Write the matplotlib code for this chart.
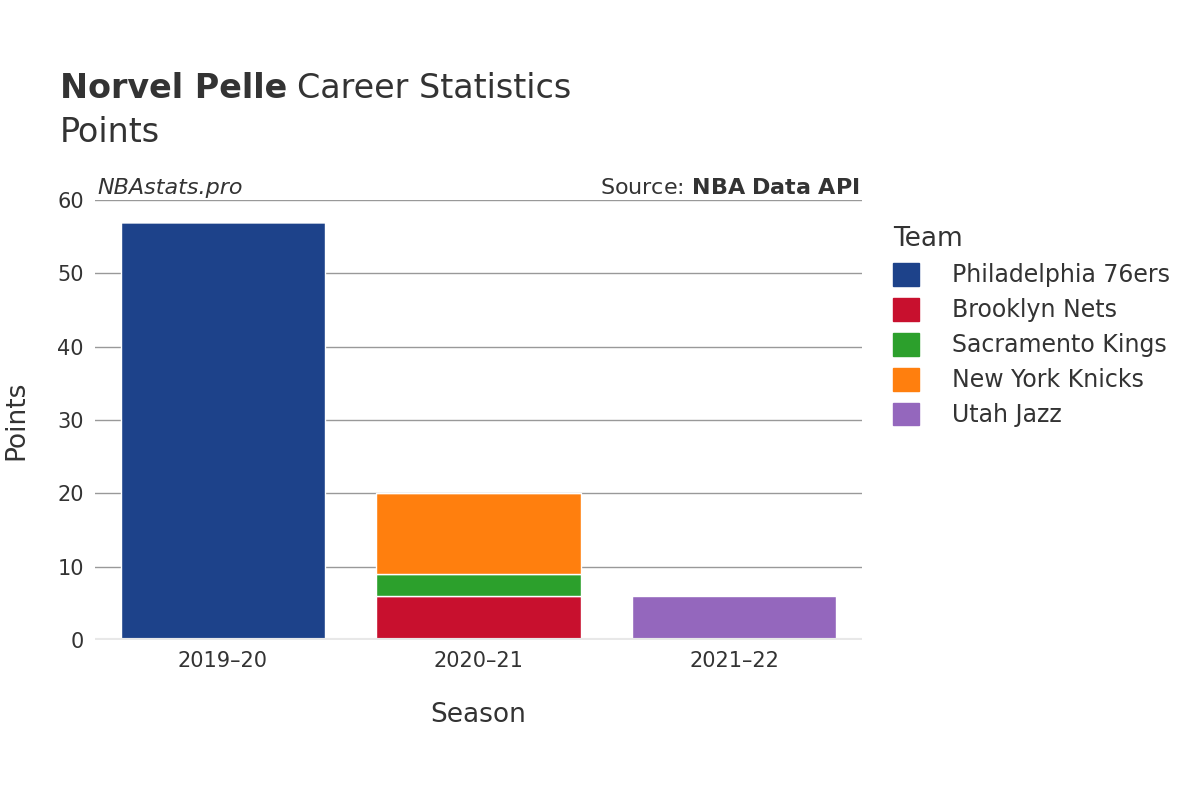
import matplotlib
matplotlib.use("Agg")
import matplotlib.pyplot as plt
from matplotlib.patches import Patch

seasons = ["2019–20", "2020–21", "2021–22"]
teams = ["Philadelphia 76ers", "Brooklyn Nets", "Sacramento Kings", "New York Knicks", "Utah Jazz"]
colors = ["#1d428a", "#c8102e", "#2ca02c", "#ff7f0e", "#9467bd"]
# points per team per season (stack order bottom to top)
points = {
    "Philadelphia 76ers": [57, 0, 0],
    "Brooklyn Nets": [0, 6, 0],
    "Sacramento Kings": [0, 3, 0],
    "New York Knicks": [0, 11, 0],
    "Utah Jazz": [0, 0, 6],
}
yticks = [0, 10, 20, 30, 40, 50, 60]

fig = plt.figure(figsize=(12, 8), dpi=100)
ax = fig.add_axes([95 / 1200, 160 / 800, 767 / 1200, 440 / 800])

bottoms = [0, 0, 0]
for team, c in zip(teams, colors):
    vals = points[team]
    ax.bar(range(len(seasons)), vals, bottom=bottoms, width=0.8, color=c,
           edgecolor="white", linewidth=1, zorder=3)
    bottoms = [b + v for b, v in zip(bottoms, vals)]

ax.set_xlim(-0.5, 2.5)
ax.set_ylim(0, 60)
ax.set_yticks(yticks)
ax.set_xticks(range(len(seasons)))
ax.set_xticklabels(seasons)
ax.grid(axis="y", color="#999999", linewidth=1, zorder=0)
ax.axhline(0, color="#e8e8e8", linewidth=3, zorder=4)
for s in ax.spines.values():
    s.set_visible(False)
ax.tick_params(length=0, labelsize=15, colors="#333333", pad=8)
ax.set_xlabel("Season", fontsize=19, color="#333333", labelpad=22)
ax.set_ylabel("Points", fontsize=19, color="#333333", labelpad=20)

ax.text(0.003, 1.005, "NBAstats.pro", transform=ax.transAxes, fontsize=16,
        style="italic", color="#333333", va="bottom")
ax.text(0.997, 1.005, "Source: $\\bf{NBA\\ Data\\ API}$", transform=ax.transAxes,
        fontsize=16, color="#333333", ha="right", va="bottom")

t1 = fig.text(60 / 1200, 1 - 88 / 800, "Norvel Pelle", fontsize=24, weight="bold",
              color="#333333", va="center")
fig.canvas.draw()
bb = t1.get_window_extent()
fig.text(bb.x1 / 1200 + 0.008, 1 - 88 / 800, "Career Statistics", fontsize=24,
         color="#333333", va="center")
fig.text(60 / 1200, 1 - 132 / 800, "Points", fontsize=24, color="#333333", va="center")

handles = [Patch(facecolor=c, edgecolor=c, label=t) for t, c in zip(teams, colors)]
leg = fig.legend(handles=handles, loc="upper left", bbox_to_anchor=(872 / 1200, 1 - 205 / 800),
                 frameon=False, fontsize=17, title="Team", title_fontsize=19,
                 handlelength=1.1, handleheight=1.1, handletextpad=1.4, labelspacing=0.45,
                 alignment="left")
for txt in leg.get_texts():
    txt.set_color("#333333")
leg.get_title().set_color("#333333")

fig.savefig("out.png", dpi=100)
